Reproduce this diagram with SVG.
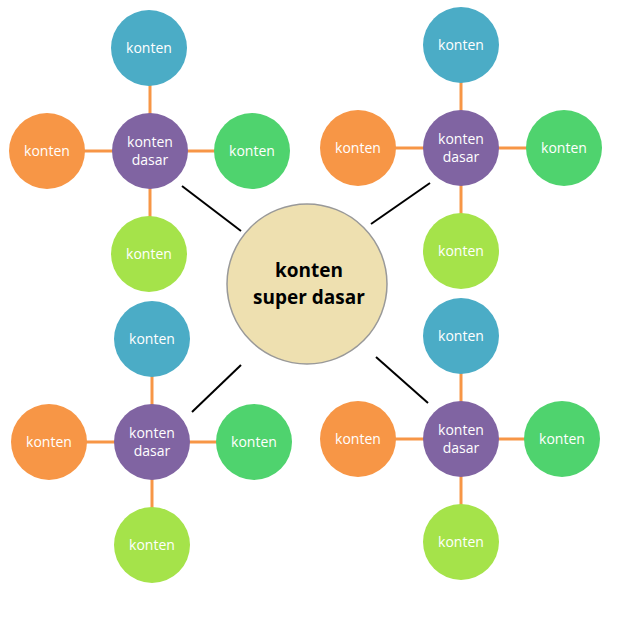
<svg xmlns="http://www.w3.org/2000/svg" width="640" height="640" viewBox="0 0 640 640">
<style>
text{font-family:"Open Sans","Liberation Sans",sans-serif;fill:#fff;font-size:14px;text-anchor:middle}
.b{fill:#4bacc6}.o{fill:#f79646}.g{fill:#4fd36e}.l{fill:#a5e34a}.p{fill:#8064a2}
.oc line{stroke:#f79646;stroke-width:3}
.bc line{stroke:#000;stroke-width:2}
</style>
<rect width="640" height="640" fill="#fff"/>
<g id="connectors">
<g class="oc">
<line x1="150" y1="48" x2="150" y2="254"/><line x1="47" y1="151" x2="252" y2="151"/>
<line x1="461" y1="45" x2="461" y2="251"/><line x1="358" y1="148" x2="564" y2="148"/>
<line x1="152" y1="339" x2="152" y2="545"/><line x1="49" y1="442" x2="254" y2="442"/>
<line x1="461" y1="336" x2="461" y2="542"/><line x1="358" y1="439" x2="562" y2="439"/>
</g>
<g class="bc">
<line x1="182" y1="186" x2="241" y2="231"/><line x1="371" y1="224" x2="430" y2="183"/>
<line x1="241" y1="365" x2="192" y2="412"/><line x1="376" y1="357" x2="428" y2="403"/>
</g>
</g>
<g id="center"><circle cx="307" cy="284" r="80" fill="#eee0b0" stroke="#999" stroke-width="1.5"/>
<text x="309" y="277" style="fill:#000;font-weight:bold;font-size:19px">konten</text>
<text x="309" y="304" style="fill:#000;font-weight:bold;font-size:19px">super dasar</text></g>
<g id="tl">
<g id="tl-b"><circle class="b" cx="149" cy="48" r="38"/><text x="149" y="53">konten</text></g>
<g id="tl-o"><circle class="o" cx="47" cy="151" r="38"/><text x="47" y="156">konten</text></g>
<g id="tl-g"><circle class="g" cx="252" cy="151" r="38"/><text x="252" y="156">konten</text></g>
<g id="tl-l"><circle class="l" cx="149" cy="254" r="38"/><text x="149" y="259">konten</text></g>
<g id="tl-p"><circle class="p" cx="150" cy="151" r="38"/><text x="150" y="147">konten</text><text x="150" y="165">dasar</text></g>
</g>
<g id="tr">
<g id="tr-b"><circle class="b" cx="461" cy="45" r="38"/><text x="461" y="50">konten</text></g>
<g id="tr-o"><circle class="o" cx="358" cy="148" r="38"/><text x="358" y="153">konten</text></g>
<g id="tr-g"><circle class="g" cx="564" cy="148" r="38"/><text x="564" y="153">konten</text></g>
<g id="tr-l"><circle class="l" cx="461" cy="251" r="38"/><text x="461" y="256">konten</text></g>
<g id="tr-p"><circle class="p" cx="461" cy="148" r="38"/><text x="461" y="144">konten</text><text x="461" y="162">dasar</text></g>
</g>
<g id="bl">
<g id="bl-b"><circle class="b" cx="152" cy="339" r="38"/><text x="152" y="344">konten</text></g>
<g id="bl-o"><circle class="o" cx="49" cy="442" r="38"/><text x="49" y="447">konten</text></g>
<g id="bl-g"><circle class="g" cx="254" cy="442" r="38"/><text x="254" y="447">konten</text></g>
<g id="bl-l"><circle class="l" cx="152" cy="545" r="38"/><text x="152" y="550">konten</text></g>
<g id="bl-p"><circle class="p" cx="152" cy="442" r="38"/><text x="152" y="438">konten</text><text x="152" y="456">dasar</text></g>
</g>
<g id="br">
<g id="br-b"><circle class="b" cx="461" cy="336" r="38"/><text x="461" y="341">konten</text></g>
<g id="br-o"><circle class="o" cx="358" cy="439" r="38"/><text x="358" y="444">konten</text></g>
<g id="br-g"><circle class="g" cx="562" cy="439" r="38"/><text x="562" y="444">konten</text></g>
<g id="br-l"><circle class="l" cx="461" cy="542" r="38"/><text x="461" y="547">konten</text></g>
<g id="br-p"><circle class="p" cx="461" cy="439" r="38"/><text x="461" y="435">konten</text><text x="461" y="453">dasar</text></g>
</g>
</svg>
